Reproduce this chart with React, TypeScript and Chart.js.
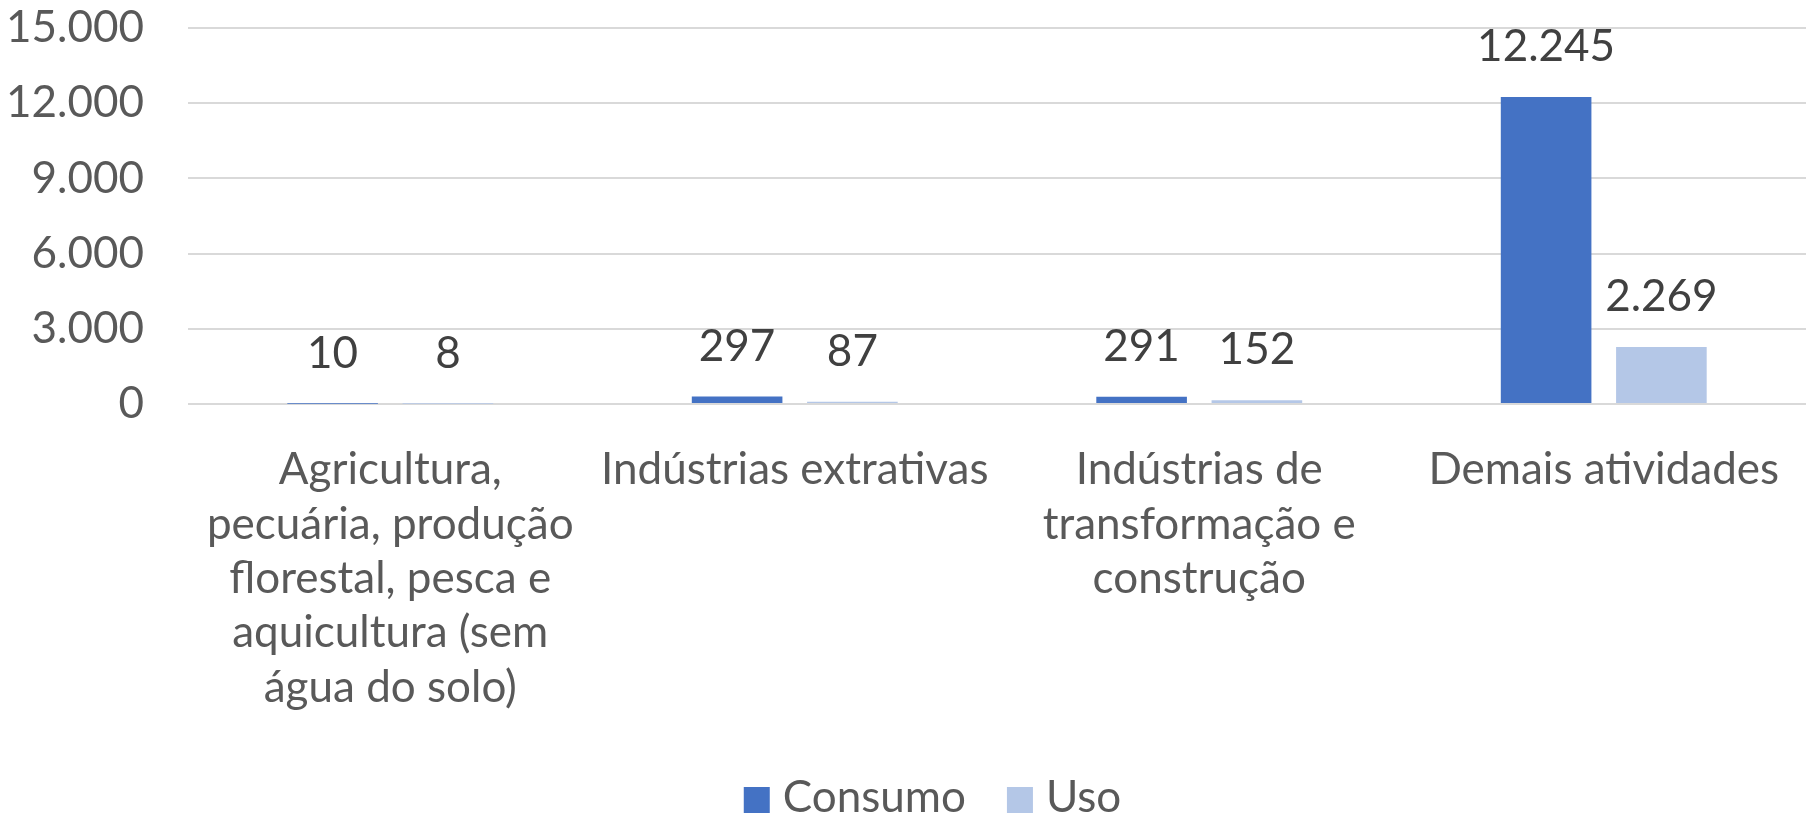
import React, { useEffect, useRef } from "react";
import { Chart, registerables } from "chart.js";

Chart.register(...registerables);

const categories: (string | string[])[] = [
  ["Agricultura,", "pecuária, produção", "florestal, pesca e", "aquicultura (sem", "água do solo)"],
  "Indústrias extrativas",
  ["Indústrias de", "transformação e", "construção"],
  "Demais atividades",
];
const seriesNames = ["Consumo", "Uso"];
const consumo = [10, 297, 291, 12245];
const uso = [8, 87, 152, 2269];
const yTicks = [0, 3000, 6000, 9000, 12000, 15000];
const colors = ["#4472C4", "#B4C7E7"];

const FONT = "Lato, 'Open Sans', sans-serif";
const FS = 44;
const W = 1809;
const H = 815;

function fmt(v: number): string {
  const s = Math.round(v).toString();
  return s.replace(/\B(?=(\d{3})+(?!\d))/g, ".");
}

const labelPlugin = {
  id: "valueLabels",
  afterDatasetsDraw(chart: any) {
    const ctx = chart.ctx;
    ctx.save();
    ctx.font = `${FS}px ${FONT}`;
    ctx.fillStyle = "#404040";
    ctx.textAlign = "center";
    ctx.textBaseline = "alphabetic";
    chart.data.datasets.forEach((ds: any, i: number) => {
      const meta = chart.getDatasetMeta(i);
      meta.data.forEach((bar: any, j: number) => {
        ctx.fillText(fmt(ds.data[j]), bar.x, bar.y - 36);
      });
    });
    ctx.restore();
  },
};

const legendPlugin = {
  id: "customLegend",
  afterDraw(chart: any) {
    const ctx = chart.ctx;
    ctx.save();
    ctx.font = `${FS}px ${FONT}`;
    ctx.textBaseline = "alphabetic";
    ctx.textAlign = "left";
    const box = 26;
    const gap = 13;
    const spacing = 41;
    const widths = chart.data.datasets.map((d: any) => ctx.measureText(d.label).width);
    let total = 0;
    widths.forEach((w: number, i: number) => {
      total += box + gap + w + (i < widths.length - 1 ? spacing : 0);
    });
    const boxTop = chart.height - 28;
    const baseline = chart.height - 3;
    let x = chart.width / 2 + 28 - total / 2;
    chart.data.datasets.forEach((d: any, i: number) => {
      ctx.fillStyle = d.backgroundColor;
      ctx.fillRect(x, boxTop, box, box);
      x += box + gap;
      ctx.fillStyle = "#595959";
      ctx.fillText(d.label, x, baseline);
      x += widths[i] + spacing;
    });
    ctx.restore();
  },
};

export default function App() {
  const ref = useRef<HTMLCanvasElement | null>(null);
  useEffect(() => {
    if (!ref.current) return;
    const chart = new Chart(ref.current, {
      type: "bar",
      data: {
        labels: categories,
        datasets: [
          { label: seriesNames[0], data: consumo, backgroundColor: colors[0], borderWidth: 0, categoryPercentage: 0.57, barPercentage: 0.786 },
          { label: seriesNames[1], data: uso, backgroundColor: colors[1], borderWidth: 0, categoryPercentage: 0.57, barPercentage: 0.786 },
        ],
      },
      options: {
        animation: false,
        responsive: false,
        maintainAspectRatio: false,
        layout: { padding: { top: 28, right: 3, bottom: 0, left: 0 } },
        plugins: { legend: { display: false }, tooltip: { enabled: false } },
        scales: {
          x: {
            grid: { display: false, drawTicks: false },
            border: { display: false },
            ticks: {
              color: "#595959",
              font: { family: FONT, size: FS, lineHeight: 1.234 },
              padding: 39,
              maxRotation: 0,
              autoSkip: false,
            },
            afterFit(scale: any) {
              scale.height = H - 404;
              scale.paddingLeft = 0;
              scale.paddingRight = 0;
            },
          },
          y: {
            min: 0,
            max: 15000,
            afterBuildTicks(scale: any) {
              scale.ticks = yTicks.map((v) => ({ value: v }));
            },
            grid: { color: "#D9D9D9", lineWidth: 2, drawTicks: true, tickLength: 44, tickColor: "rgba(0,0,0,0)" },
            border: { display: false },
            ticks: {
              color: "#595959",
              font: { family: FONT, size: FS },
              padding: 0,
              callback: (v: any) => fmt(Number(v)),
            },
            afterFit(scale: any) {
              scale.width = 188;
            },
          },
        },
      },
      plugins: [labelPlugin, legendPlugin],
    });
    return () => chart.destroy();
  }, []);
  return (
    <div style={{ position: "fixed", left: 0, top: 0, width: W, height: H, background: "#fff" }}>
      <canvas ref={ref} width={W} height={H} style={{ width: W, height: H, display: "block" }} />
    </div>
  );
}
